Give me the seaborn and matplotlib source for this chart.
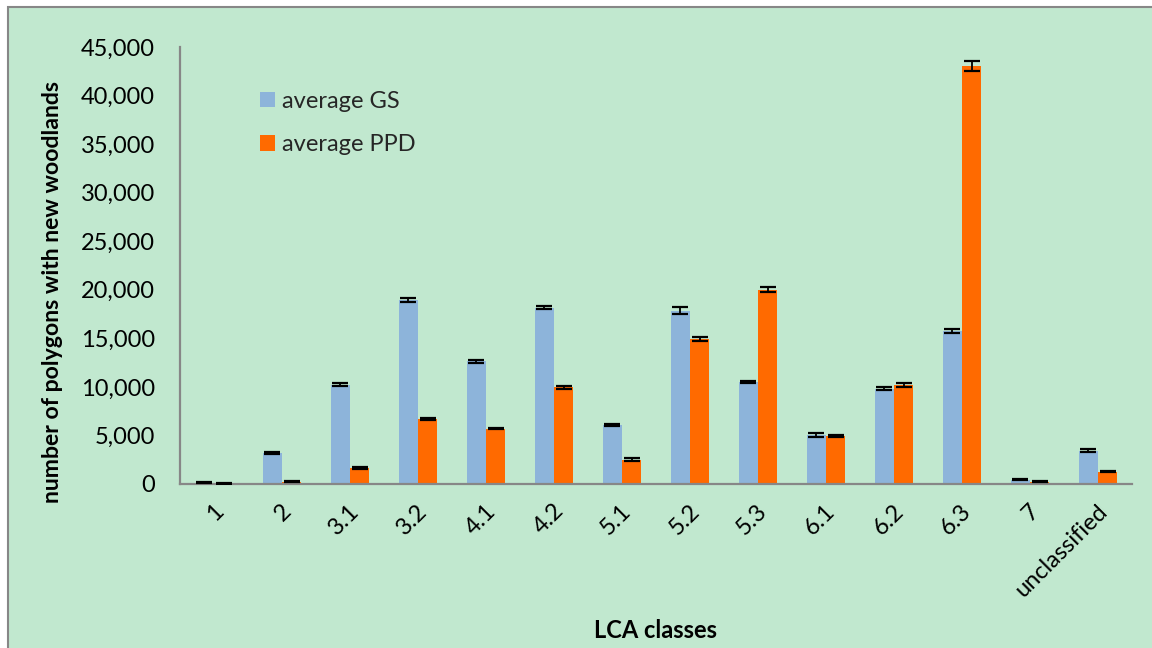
import numpy as np
import pandas as pd
import matplotlib
matplotlib.use("Agg")
import matplotlib.pyplot as plt
import matplotlib.transforms as mtransforms
import seaborn as sns
from matplotlib.patches import Rectangle
from matplotlib.ticker import FuncFormatter

# values
classes = ["1", "2", "3.1", "3.2", "4.1", "4.2", "5.1", "5.2", "5.3",
           "6.1", "6.2", "6.3", "7", "unclassified"]
gs_mean = [150, 3190, 10230, 18980, 12630, 18160, 6110, 17850, 10540,
           5050, 9810, 15760, 440, 3430]
ppd_mean = [60, 240, 1650, 6690, 5700, 9950, 2500, 14960, 20010,
            4970, 10190, 43050, 240, 1270]
gs_err = [50, 100, 150, 200, 180, 120, 100, 340, 100, 200, 180, 250, 50, 150]
ppd_err = [30, 50, 100, 120, 80, 150, 150, 200, 250, 120, 200, 520, 50, 80]
series = ["average GS", "average PPD"]

BG = "#C1E8CF"
GS_COL = "#8DB4DA"
PPD_COL = "#FF6A00"
AXIS_COL = "#878787"
FS = 17

df = pd.DataFrame({
    "cls": classes * 2,
    "value": gs_mean + ppd_mean,
    "series": [series[0]] * len(classes) + [series[1]] * len(classes),
})

sns.set_theme(style="white")
plt.rcParams["font.family"] = ["Lato", "DejaVu Sans"]

W, H = 1152, 648
fig = plt.figure(figsize=(W / 100, H / 100), dpi=100, facecolor="white")
# chart area background with grey border (right/bottom run off the canvas)
fig.add_artist(Rectangle((8 / W, -0.05), 1.1, 1 - 7 / H + 0.05,
                         transform=fig.transFigure, facecolor=BG,
                         edgecolor=AXIS_COL, linewidth=1.5, zorder=-10))

ax = fig.add_axes([180 / W, 1 - 484 / H, (1132 - 180) / W, (484 - 47) / H])
ax.set_facecolor("none")

sns.barplot(data=df, x="cls", y="value", hue="series", order=classes,
            hue_order=series, palette=[GS_COL, PPD_COL], width=0.57,
            errorbar=None, ax=ax, saturation=1, legend=True,
            linewidth=0, edgecolor="none")

for cont, errs in zip(ax.containers, [gs_err, ppd_err]):
    xs = [p.get_x() + p.get_width() / 2 for p in cont.patches]
    ys = [p.get_height() for p in cont.patches]
    ax.errorbar(xs, ys, yerr=errs, fmt="none", ecolor="black",
                elinewidth=1.3, capsize=6, capthick=1.6, zorder=5)

ax.set_ylim(0, 45000)
ax.set_xlim(-0.5, len(classes) - 0.5)
ax.set_yticks(np.arange(0, 45001, 5000))
ax.yaxis.set_major_formatter(FuncFormatter(lambda v, p: f"{int(v):,}"))
ax.tick_params(axis="y", length=0, pad=18, labelsize=FS, colors="black")
ax.tick_params(axis="x", length=0, pad=17, labelsize=FS, colors="black")
shift = mtransforms.ScaledTranslation(6 / 100, 0, fig.dpi_scale_trans)
for lab in ax.get_xticklabels():
    lab.set_rotation(45)
    lab.set_ha("right")
    lab.set_va("center")
    lab.set_rotation_mode("anchor")
    lab.set_transform(lab.get_transform() + shift)

for side in ["top", "right"]:
    ax.spines[side].set_visible(False)
for side in ["left", "bottom"]:
    ax.spines[side].set_color(AXIS_COL)
    ax.spines[side].set_linewidth(1.6)

ax.set_ylabel("number of polygons with new woodlands", fontsize=16.6,
              fontweight="bold", color="black")
ax.yaxis.set_label_coords(-0.1234, 0.44)
ax.set_xlabel("LCA classes", fontsize=FS, fontweight="bold", color="black")
ax.xaxis.set_label_coords(0.5, -0.31)

ax.legend(loc="upper left", bbox_to_anchor=(260 / W, 1 - 91 / H),
          bbox_transform=fig.transFigure, frameon=False, fontsize=FS,
          handlelength=0.62, handleheight=0.62, handletextpad=0.3,
          labelspacing=0.95, borderpad=0, borderaxespad=0)

fig.savefig("out.png", dpi=100, facecolor=fig.get_facecolor())
